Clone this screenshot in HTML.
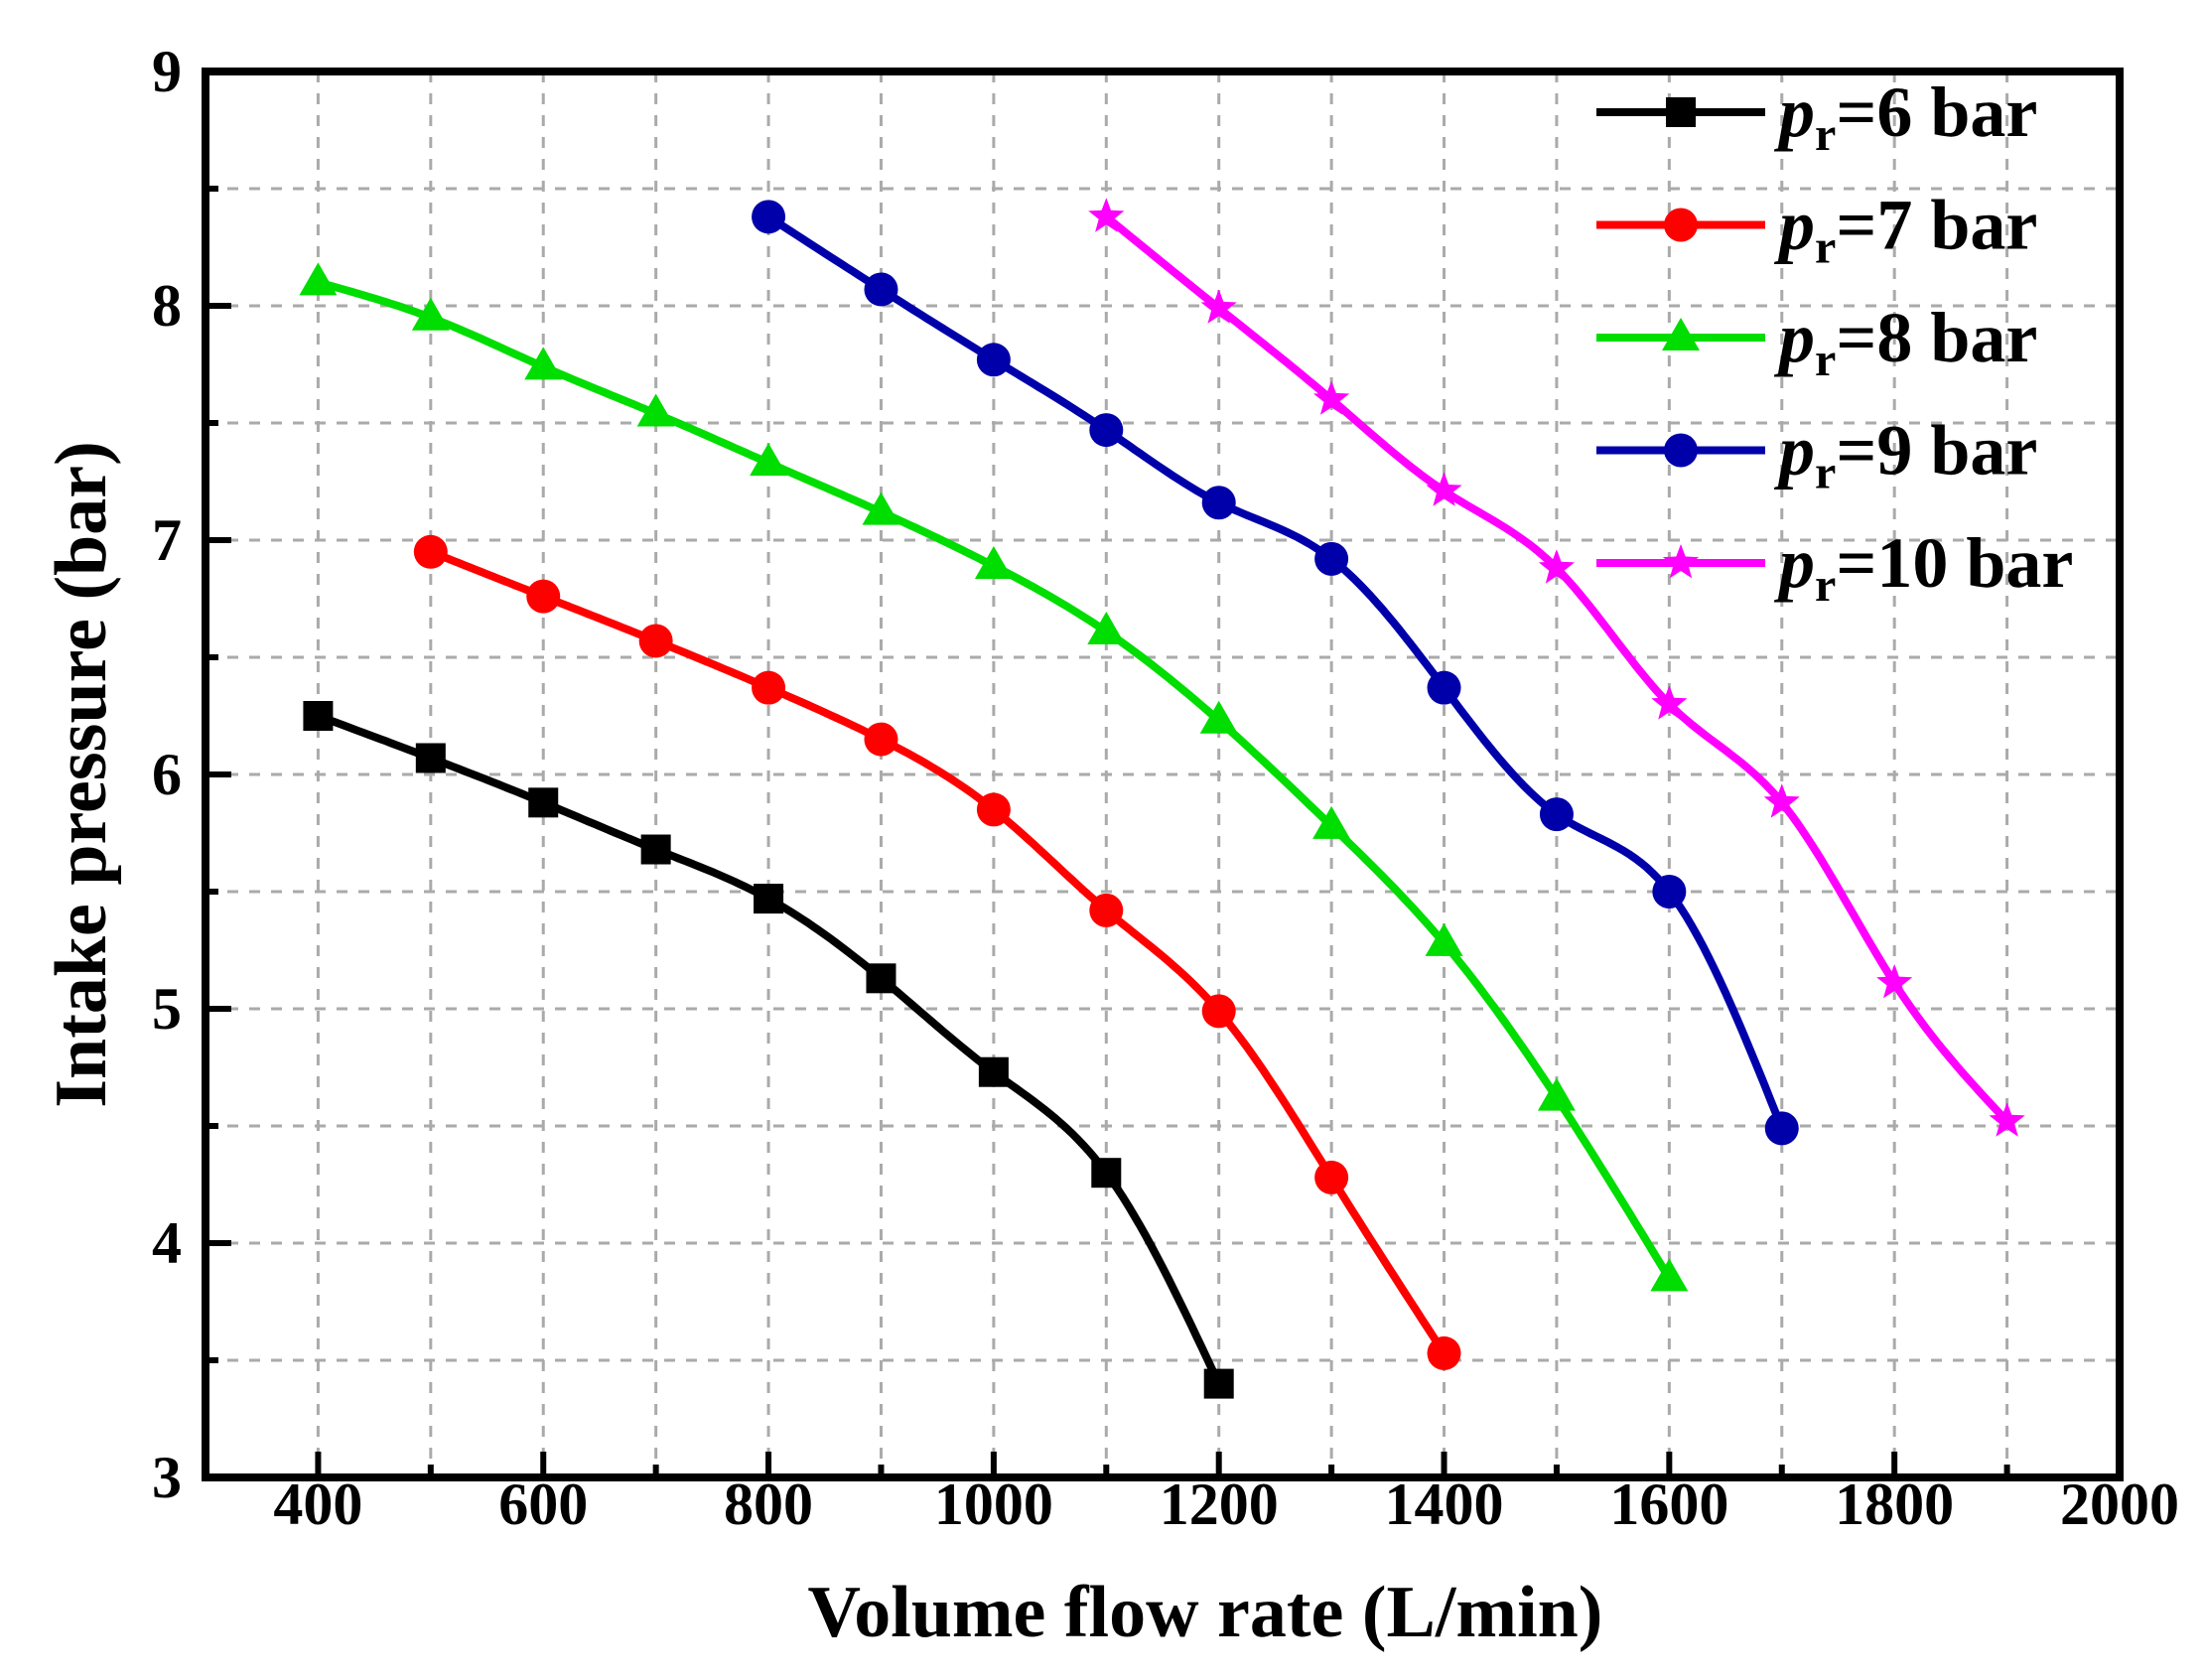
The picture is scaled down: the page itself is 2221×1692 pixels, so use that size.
<!DOCTYPE html>
<html><head><meta charset="utf-8"><style>
html,body{margin:0;padding:0;background:#fff;}
svg{display:block;font-family:"Liberation Serif",serif;font-weight:bold;}
</style></head><body>
<svg id="s" width="2221" height="1692" xmlns="http://www.w3.org/2000/svg"></svg>
<script>
const L=207,R=2135,T=72,B=1488;
const X=v=>L+(v-300)*(R-L)/1700, Y=v=>B-(v-3)*(B-T)/6;
let h='';
for(let v=400;v<2000;v+=100)h+=`<line x1="${X(v)}" y1="${T}" x2="${X(v)}" y2="${B}" stroke="#aaa" stroke-width="3" stroke-dasharray="11,11"/>`;
for(let v=3.5;v<9;v+=0.5)h+=`<line x1="${L}" y1="${Y(v)}" x2="${R}" y2="${Y(v)}" stroke="#aaa" stroke-width="3" stroke-dasharray="11,11"/>`;
for(let v=400;v<2000;v+=100){const mj=v%200==0;h+=`<line x1="${X(v)}" y1="${B}" x2="${X(v)}" y2="${B-(mj?26:13)}" stroke="#000" stroke-width="6"/>`;}
for(let v=3.5;v<9;v+=0.5){const mj=v%1==0;h+=`<line x1="${L}" y1="${Y(v)}" x2="${L+(mj?26:13)}" y2="${Y(v)}" stroke="#000" stroke-width="6"/>`;}
h+=`<rect x="${L}" y="${T}" width="${R-L}" height="${B-T}" fill="none" stroke="#000" stroke-width="8"/>`;
for(let v=400;v<=2000;v+=200)h+=`<text x="${X(v)}" y="1535" font-size="60" text-anchor="middle">${v}</text>`;
for(let v=3;v<=9;v++)h+=`<text x="183" y="${Y(v)+20}" font-size="60" text-anchor="end">${v}</text>`;
h+=`<text x="1214" y="1648" font-size="74" text-anchor="middle">Volume flow rate (L/min)</text>`;
h+=`<text transform="translate(106,780) rotate(-90)" font-size="74" text-anchor="middle">Intake pressure (bar)</text>`;
const S=[
 ['#000','sq',400,[6.25,6.07,5.88,5.68,5.47,5.13,4.73,4.30,3.40],6],
 ['#f00','ci',500,[6.95,6.76,6.57,6.37,6.15,5.85,5.42,4.99,4.28,3.53],7],
 ['#0d0','tr',400,[8.10,7.95,7.74,7.54,7.33,7.12,6.89,6.61,6.23,5.78,5.28,4.62,3.85],8],
 ['#00a','ci',800,[8.38,8.07,7.77,7.47,7.16,6.92,6.37,5.83,5.50,4.49],9],
 ['#f0f','st',1100,[8.38,7.99,7.60,7.21,6.88,6.30,5.88,5.11,4.52],10]];
function mk(t,x,y,c){
 if(t=='sq')return `<rect x="${x-15}" y="${y-15}" width="30" height="30" fill="${c}"/>`;
 if(t=='ci')return `<circle cx="${x}" cy="${y}" r="17" fill="${c}"/>`;
 if(t=='tr')return `<polygon points="${x},${y-20} ${x+19},${y+13} ${x-19},${y+13}" fill="${c}"/>`;
 let p=[];for(let i=0;i<10;i++){const a=-Math.PI/2+i*Math.PI/5,r=i%2?8:19;p.push((x+r*Math.cos(a)).toFixed(1)+','+(y+r*Math.sin(a)).toFixed(1));}
 return `<polygon points="${p.join(' ')}" fill="${c}"/>`;
}
function spline(y){ // natural cubic, uniform spacing 1
 const n=y.length,m=new Array(n).fill(0);
 if(n>2){const a=[],b=[],c=[],d=[];
  for(let i=1;i<n-1;i++){a.push(1);b.push(4);c.push(1);d.push(6*(y[i+1]-2*y[i]+y[i-1]));}
  const k=d.length;for(let i=1;i<k;i++){const w=a[i]/b[i-1];b[i]-=w*c[i-1];d[i]-=w*d[i-1];}
  const s=new Array(k);s[k-1]=d[k-1]/b[k-1];for(let i=k-2;i>=0;i--)s[i]=(d[i]-c[i]*s[i+1])/b[i];
  for(let i=0;i<k;i++)m[i+1]=s[i];}
 const out=[];
 for(let i=0;i<n-1;i++)for(let j=0;j<20;j++){const t=j/20;
  out.push([i+t,(1-t)*y[i]+t*y[i+1]+((1-t)**3-(1-t))*m[i]/6+(t**3-t)*m[i+1]/6]);}
 out.push([n-1,y[n-1]]);return out;
}
S.forEach((s,k)=>{
 const [c,t,x0,d,lab]=s;
 const pts=spline(d).map(q=>X(x0+100*q[0]).toFixed(1)+','+Y(q[1]).toFixed(1));
 h+=`<polyline points="${pts.join(' ')}" fill="none" stroke="${c}" stroke-width="8" stroke-linejoin="round"/>`;
 d.forEach((v,i)=>h+=mk(t,X(x0+100*i),Y(v),c));
 const ly=113+113.5*k;
 h+=`<line x1="1608" y1="${ly}" x2="1778" y2="${ly}" stroke="${c}" stroke-width="8"/>`+mk(t,1693,ly,c);
 h+=`<text x="1792" y="${ly+24}" font-size="72"><tspan font-style="italic">p</tspan><tspan font-size="48" dy="14">r</tspan><tspan dy="-14">=${lab} bar</tspan></text>`;
});
document.getElementById('s').innerHTML=h;
</script>
</body></html>
